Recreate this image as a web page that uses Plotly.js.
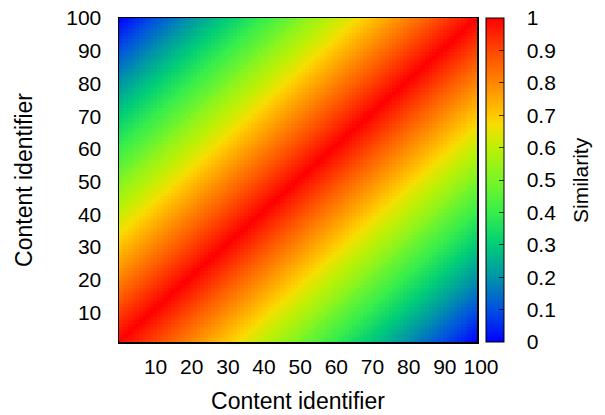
<!DOCTYPE html>
<html>
<head>
<meta charset="utf-8">
<script src="https://cdn.plot.ly/plotly-3.0.1.min.js"></script>
<style>html,body{margin:0;padding:0;background:#fff;}#chart{width:605px;height:415px;}</style>
</head>
<body>
<div id="chart"></div>
<script>
// Content identifiers (both axes)
const contentIds = [1,2,3,4,5,6,7,8,9,10,11,12,13,14,15,16,17,18,19,20,
  21,22,23,24,25,26,27,28,29,30,31,32,33,34,35,36,37,38,39,40,
  41,42,43,44,45,46,47,48,49,50,51,52,53,54,55,56,57,58,59,60,
  61,62,63,64,65,66,67,68,69,70,71,72,73,74,75,76,77,78,79,80,
  81,82,83,84,85,86,87,88,89,90,91,92,93,94,95,96,97,98,99,100];

// Similarity, indexed by distance |x - y| between identifiers
const similarityByOffset = [1.00,0.99,0.98,0.97,0.96,0.95,0.94,0.93,0.92,0.91,
  0.90,0.89,0.88,0.87,0.86,0.85,0.84,0.83,0.82,0.81,
  0.80,0.79,0.78,0.77,0.76,0.75,0.74,0.73,0.72,0.71,
  0.70,0.69,0.68,0.67,0.66,0.65,0.64,0.63,0.62,0.61,
  0.60,0.59,0.58,0.57,0.56,0.55,0.54,0.53,0.52,0.51,
  0.49,0.48,0.47,0.46,0.45,0.44,0.43,0.42,0.41,0.40,
  0.39,0.38,0.37,0.36,0.35,0.34,0.33,0.32,0.31,0.30,
  0.29,0.28,0.27,0.26,0.25,0.24,0.23,0.22,0.21,0.20,
  0.19,0.18,0.17,0.16,0.15,0.14,0.13,0.12,0.11,0.10,
  0.09,0.08,0.07,0.06,0.05,0.04,0.03,0.02,0.01,0.00];

const axisTickVals = [10,20,30,40,50,60,70,80,90,100];
const axisTickText = ['10','20','30','40','50','60','70','80','90','100'];
const cbTickVals = [0,0.1,0.2,0.3,0.4,0.5,0.6,0.7,0.8,0.9,1];
const cbTickText = ['0','0.1','0.2','0.3','0.4','0.5','0.6','0.7','0.8','0.9','1'];

// similarity matrix table (rows = y identifier, cols = x identifier)
const z = contentIds.map((yi, r) => contentIds.map((xi, c) => similarityByOffset[Math.abs(r - c)]));

const colorscale = [
  [0.0,'rgb(0,0,255)'],
  [0.1,'rgb(0,80,225)'],
  [0.2,'rgb(0,148,168)'],
  [0.3,'rgb(0,205,120)'],
  [0.4,'rgb(55,238,75)'],
  [0.5,'rgb(122,245,38)'],
  [0.6,'rgb(190,240,5)'],
  [0.67,'rgb(245,222,0)'],
  [0.7,'rgb(255,200,0)'],
  [0.8,'rgb(255,135,0)'],
  [0.9,'rgb(255,70,0)'],
  [1.0,'rgb(255,0,0)']
];

const FONT = 'Liberation Sans, Arial, Helvetica, sans-serif';
const PAD = '\u00a0\u00a0\u00a0';

const trace = {
  type: 'heatmap',
  x: contentIds,
  y: contentIds,
  z: z,
  zmin: 0, zmax: 1,
  colorscale: colorscale,
  hoverinfo: 'skip',
  colorbar: {
    x: 1.025, xanchor: 'left',
    y: 0.5, yanchor: 'middle', len: 1, lenmode: 'fraction',
    thickness: 18, thicknessmode: 'pixels',
    outlinecolor: '#000', outlinewidth: 1,
    ticks: 'inside', ticklen: 5, tickcolor: 'rgba(0,0,0,0.75)', tickwidth: 1,
    tickvals: cbTickVals, ticktext: cbTickText.map(t => PAD + t),
    tickfont: {family: FONT, size: 21, color: '#000'},
    xpad: 0, ypad: 0,
    title: {text: ''}
  }
};

const layout = {
  width: 605, height: 415,
  margin: {l: 119, r: 128, t: 18, b: 73, pad: 0},
  paper_bgcolor: '#fff', plot_bgcolor: '#fff',
  font: {family: FONT, color: '#000'},
  xaxis: {
    range: [1, 100], showgrid: false, zeroline: false,
    showline: true, mirror: true, linecolor: '#000', linewidth: 1.5,
    tickvals: axisTickVals, ticktext: axisTickText, ticks: '',
    ticklabelshift: 4, ticklabelstandoff: 5,
    tickfont: {family: FONT, size: 21, color: '#000'},
    title: {text: 'Content identifier', standoff: 16, font: {family: FONT, size: 23, color: '#000'}}
  },
  yaxis: {
    range: [1, 100], showgrid: false, zeroline: false,
    showline: true, mirror: true, linecolor: '#000', linewidth: 1.5,
    tickvals: axisTickVals, ticktext: axisTickText, ticks: '',
    ticklabelstandoff: 12,
    tickfont: {family: FONT, size: 21, color: '#000'},
    title: {text: 'Content identifier', standoff: 27, font: {family: FONT, size: 23, color: '#000'}}
  },
  annotations: [{
    text: 'Similarity', xref: 'paper', yref: 'paper',
    x: (580 - 119) / 358, y: 0.5, xanchor: 'center', yanchor: 'middle',
    textangle: -90, showarrow: false,
    font: {family: FONT, size: 21, color: '#000'}
  }]
};

Plotly.newPlot('chart', [trace], layout, {displayModeBar: false, staticPlot: true});
</script>
</body>
</html>
